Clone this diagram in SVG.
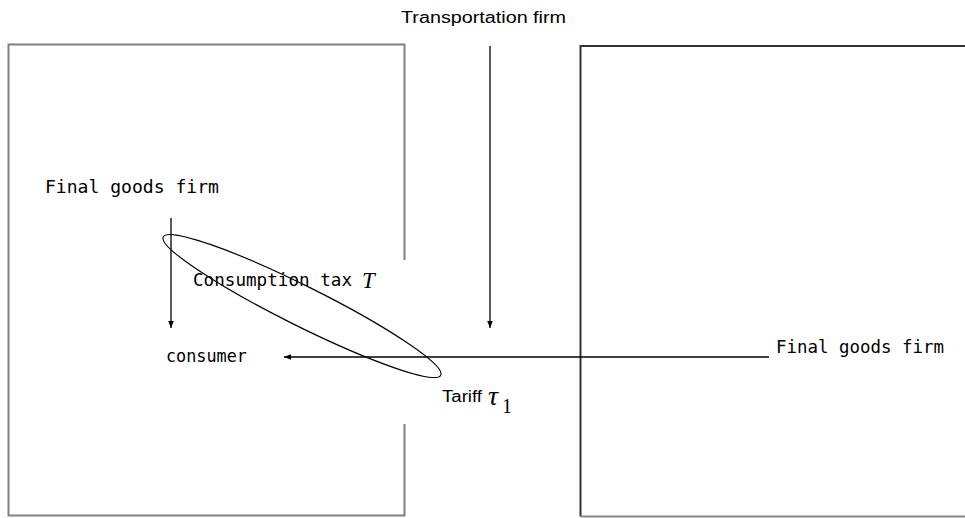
<svg xmlns="http://www.w3.org/2000/svg" width="965" height="518" viewBox="0 0 965 518">
<style>
.mono{font-family:"DejaVu Sans Mono","Liberation Mono",monospace;font-size:17px;fill:#000}
.sans{font-family:"Liberation Sans","Noto Sans",sans-serif;font-size:16px;fill:#000}
.math{font-family:"Liberation Serif","DejaVu Serif",serif;font-style:italic;fill:#000}
.num{font-family:"Liberation Serif","DejaVu Serif",serif;font-style:normal;fill:#000}
.ln{stroke:#000;stroke-width:1.3;fill:none}
</style>
<defs>
<marker id="ah" viewBox="0 0 10 10" refX="10" refY="5" markerWidth="7" markerHeight="7" markerUnits="userSpaceOnUse" orient="auto">
<path d="M0,1 L10,5 L0,9 Z" fill="#000"/>
</marker>
</defs>
<g id="left-country">
<path d="M404.5,260 V44.5 H8.5 V515.5 H404.5 V424" fill="none" stroke="#808080" stroke-width="2"/>
</g>
<g id="right-country">
<path d="M966,46 H580.5 V516.5" fill="none" stroke="#333" stroke-width="2"/>
<path d="M580.5,516.5 H966" fill="none" stroke="#888" stroke-width="2"/>
</g>
<g id="transport">
<text class="sans" x="401" y="23" textLength="165" lengthAdjust="spacingAndGlyphs">Transportation firm</text>
</g>
<g id="final-left">
<text class="mono" x="45" y="193" textLength="174" lengthAdjust="spacingAndGlyphs">Final goods firm</text>
</g>
<g id="consumer">
<text class="mono" x="166" y="362" textLength="81" lengthAdjust="spacingAndGlyphs">consumer</text>
</g>
<g id="final-right">
<text class="mono" x="776" y="353" textLength="168" lengthAdjust="spacingAndGlyphs">Final goods firm</text>
</g>
<g id="consumption-tax">
<ellipse cx="302" cy="306" rx="155" ry="20" transform="rotate(26.5 302 306)" fill="none" stroke="#000" stroke-width="1.2"/>
<text class="mono" x="193" y="286" textLength="159" lengthAdjust="spacingAndGlyphs">Consumption tax</text>
<text class="math" x="362" y="288" font-size="23">T</text>
</g>
<g id="tariff">
<text class="sans" x="442" y="402" textLength="40" lengthAdjust="spacingAndGlyphs">Tariff</text>
<text class="math" x="488" y="405" font-size="28">τ</text>
<text class="num" x="502" y="413" font-size="20">1</text>
</g>
<g id="connectors">
<line class="ln" x1="490" y1="46" x2="490" y2="328" marker-end="url(#ah)"/>
<line class="ln" x1="171" y1="218" x2="171" y2="328" marker-end="url(#ah)"/>
<line class="ln" x1="769" y1="357" x2="284" y2="357" marker-end="url(#ah)"/>
</g>
</svg>
